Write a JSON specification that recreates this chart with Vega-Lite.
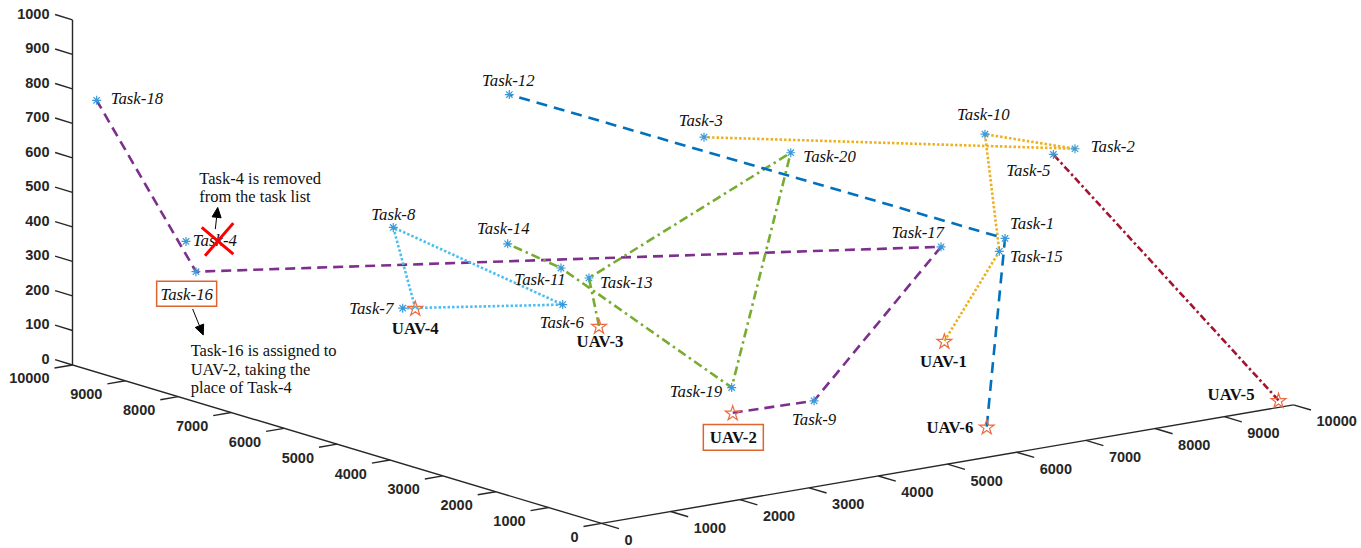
{
  "$schema": "https://vega.github.io/schema/vega-lite/v6.json",
  "width": 1361,
  "height": 548,
  "autosize": {"type": "fit", "contains": "padding"},
  "padding": 0,
  "background": "white",
  "config": {
    "view": {"stroke": null},
    "text": {"font": "Liberation Serif", "fontSize": 16.8, "fontStyle": "italic", "color": "#111111", "baseline": "middle"}
  },
  "datasets": {
    "points": [
      {"name": "Task-1", "kind": "task", "x": 8220, "y": 3125, "z": 400},
      {"name": "Task-2", "kind": "task", "x": 8438, "y": 2087, "z": 700},
      {"name": "Task-3", "kind": "task", "x": 5912, "y": 5796, "z": 650},
      {"name": "Task-4", "kind": "task", "x": 811, "y": 8915, "z": 380},
      {"name": "Task-5", "kind": "task", "x": 8594, "y": 2700, "z": 650},
      {"name": "Task-6", "kind": "task", "x": 4240, "y": 6280, "z": 200},
      {"name": "Task-7", "kind": "task", "x": 2659, "y": 7236, "z": 200},
      {"name": "Task-8", "kind": "task", "x": 2404, "y": 7081, "z": 450},
      {"name": "Task-9", "kind": "task", "x": 4128, "y": 1382, "z": 150},
      {"name": "Task-10", "kind": "task", "x": 8057, "y": 3290, "z": 700},
      {"name": "Task-11", "kind": "task", "x": 3759, "y": 5683, "z": 350},
      {"name": "Task-12", "kind": "task", "x": 3841, "y": 6767, "z": 800},
      {"name": "Task-13", "kind": "task", "x": 4240, "y": 5783, "z": 300},
      {"name": "Task-14", "kind": "task", "x": 3483, "y": 6330, "z": 400},
      {"name": "Task-15", "kind": "task", "x": 8299, "y": 3336, "z": 350},
      {"name": "Task-16", "kind": "task", "x": 820, "y": 8739, "z": 300},
      {"name": "Task-17", "kind": "task", "x": 7904, "y": 3921, "z": 350},
      {"name": "Task-18", "kind": "task", "x": 190, "y": 9792, "z": 770},
      {"name": "Task-19", "kind": "task", "x": 3778, "y": 2481, "z": 150},
      {"name": "Task-20", "kind": "task", "x": 5703, "y": 3883, "z": 700},
      {"name": "UAV-1", "kind": "uav", "x": 8748, "y": 4962, "z": 0},
      {"name": "UAV-2", "kind": "uav", "x": 4601, "y": 3538, "z": 0},
      {"name": "UAV-3", "kind": "uav", "x": 6032, "y": 7938, "z": 0},
      {"name": "UAV-4", "kind": "uav", "x": 4894, "y": 9922, "z": 0},
      {"name": "UAV-5", "kind": "uav", "x": 10000, "y": 283, "z": 0},
      {"name": "UAV-6", "kind": "uav", "x": 6507, "y": 1230, "z": 0}
    ],
    "routes": [
      {"route": "UAV-1", "seq": 1, "name": "UAV-1"},
      {"route": "UAV-1", "seq": 2, "name": "Task-15"},
      {"route": "UAV-1", "seq": 3, "name": "Task-10"},
      {"route": "UAV-1", "seq": 4, "name": "Task-2"},
      {"route": "UAV-1", "seq": 5, "name": "Task-3"},
      {"route": "UAV-2", "seq": 1, "name": "UAV-2"},
      {"route": "UAV-2", "seq": 2, "name": "Task-9"},
      {"route": "UAV-2", "seq": 3, "name": "Task-17"},
      {"route": "UAV-2", "seq": 4, "name": "Task-16"},
      {"route": "UAV-2", "seq": 5, "name": "Task-18"},
      {"route": "UAV-3", "seq": 1, "name": "UAV-3"},
      {"route": "UAV-3", "seq": 2, "name": "Task-13"},
      {"route": "UAV-3", "seq": 3, "name": "Task-20"},
      {"route": "UAV-3", "seq": 4, "name": "Task-19"},
      {"route": "UAV-3", "seq": 5, "name": "Task-11"},
      {"route": "UAV-3", "seq": 6, "name": "Task-14"},
      {"route": "UAV-4", "seq": 1, "name": "UAV-4"},
      {"route": "UAV-4", "seq": 2, "name": "Task-8"},
      {"route": "UAV-4", "seq": 3, "name": "Task-6"},
      {"route": "UAV-4", "seq": 4, "name": "Task-7"},
      {"route": "UAV-5", "seq": 1, "name": "UAV-5"},
      {"route": "UAV-5", "seq": 2, "name": "Task-5"},
      {"route": "UAV-6", "seq": 1, "name": "UAV-6"},
      {"route": "UAV-6", "seq": 2, "name": "Task-1"},
      {"route": "UAV-6", "seq": 3, "name": "Task-12"}
    ],
    "axisLine": [
      {"seq": 1, "x": 10000, "y": 0, "z": 0},
      {"seq": 2, "x": 0, "y": 0, "z": 0},
      {"seq": 3, "x": 0, "y": 10000, "z": 0},
      {"seq": 4, "x": 0, "y": 10000, "z": 1000}
    ],
    "ticks": [
      {"axis": "x", "value": 0, "x": 0, "y": 0, "z": 0},
      {"axis": "x", "value": 1000, "x": 1000, "y": 0, "z": 0},
      {"axis": "x", "value": 2000, "x": 2000, "y": 0, "z": 0},
      {"axis": "x", "value": 3000, "x": 3000, "y": 0, "z": 0},
      {"axis": "x", "value": 4000, "x": 4000, "y": 0, "z": 0},
      {"axis": "x", "value": 5000, "x": 5000, "y": 0, "z": 0},
      {"axis": "x", "value": 6000, "x": 6000, "y": 0, "z": 0},
      {"axis": "x", "value": 7000, "x": 7000, "y": 0, "z": 0},
      {"axis": "x", "value": 8000, "x": 8000, "y": 0, "z": 0},
      {"axis": "x", "value": 9000, "x": 9000, "y": 0, "z": 0},
      {"axis": "x", "value": 10000, "x": 10000, "y": 0, "z": 0},
      {"axis": "y", "value": 0, "x": 0, "y": 0, "z": 0},
      {"axis": "y", "value": 1000, "x": 0, "y": 1000, "z": 0},
      {"axis": "y", "value": 2000, "x": 0, "y": 2000, "z": 0},
      {"axis": "y", "value": 3000, "x": 0, "y": 3000, "z": 0},
      {"axis": "y", "value": 4000, "x": 0, "y": 4000, "z": 0},
      {"axis": "y", "value": 5000, "x": 0, "y": 5000, "z": 0},
      {"axis": "y", "value": 6000, "x": 0, "y": 6000, "z": 0},
      {"axis": "y", "value": 7000, "x": 0, "y": 7000, "z": 0},
      {"axis": "y", "value": 8000, "x": 0, "y": 8000, "z": 0},
      {"axis": "y", "value": 9000, "x": 0, "y": 9000, "z": 0},
      {"axis": "y", "value": 10000, "x": 0, "y": 10000, "z": 0},
      {"axis": "z", "value": 0, "x": 0, "y": 10000, "z": 0},
      {"axis": "z", "value": 100, "x": 0, "y": 10000, "z": 100},
      {"axis": "z", "value": 200, "x": 0, "y": 10000, "z": 200},
      {"axis": "z", "value": 300, "x": 0, "y": 10000, "z": 300},
      {"axis": "z", "value": 400, "x": 0, "y": 10000, "z": 400},
      {"axis": "z", "value": 500, "x": 0, "y": 10000, "z": 500},
      {"axis": "z", "value": 600, "x": 0, "y": 10000, "z": 600},
      {"axis": "z", "value": 700, "x": 0, "y": 10000, "z": 700},
      {"axis": "z", "value": 800, "x": 0, "y": 10000, "z": 800},
      {"axis": "z", "value": 900, "x": 0, "y": 10000, "z": 900},
      {"axis": "z", "value": 1000, "x": 0, "y": 10000, "z": 1000}
    ]
  },
  "encoding": {
    "x": {"field": "u", "type": "quantitative", "scale": {"domain": [-601.5, 759.5], "nice": false, "zero": false}, "axis": null},
    "y": {"field": "v", "type": "quantitative", "scale": {"domain": [-22.7, 525.3], "nice": false, "zero": false}, "axis": null}
  },
  "layer": [
    {
      "data": {"name": "axisLine"},
      "transform": [
        {"calculate": "0.0692*datum.x-0.0529*datum.y", "as": "u"},
        {"calculate": "0.0119*datum.x+0.0159*datum.y+0.3463*datum.z", "as": "v"}
      ],
      "mark": {"type": "line", "stroke": "#262626", "strokeWidth": 1.4},
      "encoding": {"order": {"field": "seq", "type": "quantitative"}}
    },
    {
      "data": {"name": "ticks"},
      "transform": [
        {"calculate": "0.0692*datum.x-0.0529*datum.y", "as": "u"},
        {"calculate": "0.0119*datum.x+0.0159*datum.y+0.3463*datum.z", "as": "v"}
      ],
      "layer": [
        {"transform": [{"filter": "datum.axis==='x'"}], "mark": {"type": "point", "shape": "M0,0L17.5,5.2", "size": 4, "filled": false, "stroke": "#262626", "strokeWidth": 1.4, "opacity": 1}},
        {"transform": [{"filter": "datum.axis==='y'"}], "mark": {"type": "point", "shape": "M0,0L-18,3.1", "size": 4, "filled": false, "stroke": "#262626", "strokeWidth": 1.4, "opacity": 1}},
        {"transform": [{"filter": "datum.axis==='z'"}], "mark": {"type": "point", "shape": "M0,0L-17.4,-5.4", "size": 4, "filled": false, "stroke": "#262626", "strokeWidth": 1.4, "opacity": 1}},
        {"transform": [{"filter": "datum.axis==='x'"}], "mark": {"type": "text", "align": "left", "dx": 23, "dy": 17.5, "font": "Liberation Sans", "fontSize": 14.5, "fontWeight": "bold", "fontStyle": "normal", "color": "#262626"}, "encoding": {"text": {"field": "value", "type": "quantitative", "format": "d"}}},
        {"transform": [{"filter": "datum.axis==='y'"}], "mark": {"type": "text", "align": "right", "dx": -23, "dy": 14.5, "font": "Liberation Sans", "fontSize": 14.5, "fontWeight": "bold", "fontStyle": "normal", "color": "#262626"}, "encoding": {"text": {"field": "value", "type": "quantitative", "format": "d"}}},
        {"transform": [{"filter": "datum.axis==='z'"}], "mark": {"type": "text", "align": "right", "dx": -23, "dy": -5, "font": "Liberation Sans", "fontSize": 14.5, "fontWeight": "bold", "fontStyle": "normal", "color": "#262626"}, "encoding": {"text": {"field": "value", "type": "quantitative", "format": "d"}}}
      ]
    },
    {
      "data": {"name": "routes"},
      "transform": [
        {"lookup": "name", "from": {"data": {"name": "points"}, "key": "name", "fields": ["x", "y", "z"]}},
        {"calculate": "0.0692*datum.x-0.0529*datum.y", "as": "u"},
        {"calculate": "0.0119*datum.x+0.0159*datum.y+0.3463*datum.z", "as": "v"}
      ],
      "mark": {"type": "line", "strokeWidth": 2.6},
      "encoding": {
        "detail": {"field": "route"},
        "order": {"field": "seq", "type": "quantitative"},
        "color": {"field": "route", "type": "nominal", "legend": null, "scale": {"domain": ["UAV-1", "UAV-2", "UAV-3", "UAV-4", "UAV-5", "UAV-6"], "range": ["#EDB120", "#7E2F8E", "#77AC30", "#4DBEEE", "#A2142F", "#0072BD"]}},
        "strokeDash": {"field": "route", "type": "nominal", "legend": null, "scale": {"domain": ["UAV-1", "UAV-2", "UAV-3", "UAV-4", "UAV-5", "UAV-6"], "range": [[2.5, 2], [10, 6], [9, 4, 2.5, 4], [2.5, 2], [7, 3, 2.5, 3], [11, 7]]}}
      }
    },
    {
      "data": {"name": "points"},
      "transform": [
        {"calculate": "0.0692*datum.x-0.0529*datum.y", "as": "u"},
        {"calculate": "0.0119*datum.x+0.0159*datum.y+0.3463*datum.z", "as": "v"}
      ],
      "layer": [
        {"transform": [{"filter": "datum.kind==='task'"}], "mark": {"type": "point", "shape": "M-4.5,0H4.5M0,-4.5V4.5M-3.2,-3.2L3.2,3.2M-3.2,3.2L3.2,-3.2", "size": 4, "filled": false, "stroke": "#3A9AD9", "strokeWidth": 1.2, "opacity": 1}},
        {"transform": [{"filter": "datum.kind==='uav'"}], "mark": {"type": "point", "shape": "M0,-7.1L1.75,-1.71L7.42,-1.71L2.83,1.62L4.58,7.01L0,3.68L-4.58,7.01L-2.83,1.62L-7.42,-1.71L-1.75,-1.71Z", "size": 4, "filled": false, "stroke": "#EE6A3F", "strokeWidth": 1.2, "opacity": 1}},
        {"transform": [{"filter": "datum.name==='Task-18'"}], "mark": {"type": "text", "align": "left", "dx": 14, "dy": -1.2}, "encoding": {"text": {"field": "name"}}},
        {"transform": [{"filter": "datum.name==='Task-4'"}], "mark": {"type": "text", "align": "left", "dx": 6.7, "dy": -0.1}, "encoding": {"text": {"field": "name"}}},
        {"transform": [{"filter": "datum.name==='Task-8'"}], "mark": {"type": "text", "align": "center", "dx": 0, "dy": -12.8}, "encoding": {"text": {"field": "name"}}},
        {"transform": [{"filter": "datum.name==='Task-14'"}], "mark": {"type": "text", "align": "center", "dx": -4.4, "dy": -15.2}, "encoding": {"text": {"field": "name"}}},
        {"transform": [{"filter": "datum.name==='Task-11'"}], "mark": {"type": "text", "align": "center", "dx": -21, "dy": 12.2}, "encoding": {"text": {"field": "name"}}},
        {"transform": [{"filter": "datum.name==='Task-13'"}], "mark": {"type": "text", "align": "left", "dx": 11, "dy": 5.5}, "encoding": {"text": {"field": "name"}}},
        {"transform": [{"filter": "datum.name==='Task-7'"}], "mark": {"type": "text", "align": "right", "dx": -9.4, "dy": 1.2}, "encoding": {"text": {"field": "name"}}},
        {"transform": [{"filter": "datum.name==='Task-6'"}], "mark": {"type": "text", "align": "center", "dx": -1, "dy": 18.8}, "encoding": {"text": {"field": "name"}}},
        {"transform": [{"filter": "datum.name==='Task-12'"}], "mark": {"type": "text", "align": "center", "dx": -1, "dy": -13.8}, "encoding": {"text": {"field": "name"}}},
        {"transform": [{"filter": "datum.name==='Task-3'"}], "mark": {"type": "text", "align": "center", "dx": -3.3, "dy": -16.5}, "encoding": {"text": {"field": "name"}}},
        {"transform": [{"filter": "datum.name==='Task-20'"}], "mark": {"type": "text", "align": "left", "dx": 12.6, "dy": 4.5}, "encoding": {"text": {"field": "name"}}},
        {"transform": [{"filter": "datum.name==='Task-10'"}], "mark": {"type": "text", "align": "center", "dx": -1.7, "dy": -19.2}, "encoding": {"text": {"field": "name"}}},
        {"transform": [{"filter": "datum.name==='Task-2'"}], "mark": {"type": "text", "align": "left", "dx": 15.7, "dy": -1.5}, "encoding": {"text": {"field": "name"}}},
        {"transform": [{"filter": "datum.name==='Task-5'"}], "mark": {"type": "text", "align": "center", "dx": -25, "dy": 16.2}, "encoding": {"text": {"field": "name"}}},
        {"transform": [{"filter": "datum.name==='Task-1'"}], "mark": {"type": "text", "align": "left", "dx": 5, "dy": -14.8}, "encoding": {"text": {"field": "name"}}},
        {"transform": [{"filter": "datum.name==='Task-15'"}], "mark": {"type": "text", "align": "left", "dx": 10.7, "dy": 5.9}, "encoding": {"text": {"field": "name"}}},
        {"transform": [{"filter": "datum.name==='Task-17'"}], "mark": {"type": "text", "align": "center", "dx": -23.3, "dy": -13.9}, "encoding": {"text": {"field": "name"}}},
        {"transform": [{"filter": "datum.name==='Task-19'"}], "mark": {"type": "text", "align": "center", "dx": -35.7, "dy": 4.2}, "encoding": {"text": {"field": "name"}}},
        {"transform": [{"filter": "datum.name==='Task-9'"}], "mark": {"type": "text", "align": "center", "dx": 0, "dy": 19.2}, "encoding": {"text": {"field": "name"}}},
        {"transform": [{"filter": "datum.name==='Task-16'"}], "mark": {"type": "text", "align": "center", "dx": -9.3, "dy": 22.8}, "encoding": {"text": {"field": "name"}}},
        {"transform": [{"filter": "datum.name==='UAV-4'"}], "mark": {"type": "text", "align": "center", "dx": 0, "dy": 21.2, "fontStyle": "normal", "fontWeight": "bold"}, "encoding": {"text": {"field": "name"}}},
        {"transform": [{"filter": "datum.name==='UAV-3'"}], "mark": {"type": "text", "align": "center", "dx": 1, "dy": 15.9, "fontStyle": "normal", "fontWeight": "bold"}, "encoding": {"text": {"field": "name"}}},
        {"transform": [{"filter": "datum.name==='UAV-1'"}], "mark": {"type": "text", "align": "center", "dx": -1, "dy": 20.9, "fontStyle": "normal", "fontWeight": "bold"}, "encoding": {"text": {"field": "name"}}},
        {"transform": [{"filter": "datum.name==='UAV-6'"}], "mark": {"type": "text", "align": "right", "dx": -13.4, "dy": 1.5, "fontStyle": "normal", "fontWeight": "bold"}, "encoding": {"text": {"field": "name"}}},
        {"transform": [{"filter": "datum.name==='UAV-5'"}], "mark": {"type": "text", "align": "right", "dx": -24, "dy": -5.5, "fontStyle": "normal", "fontWeight": "bold"}, "encoding": {"text": {"field": "name"}}},
        {"transform": [{"filter": "datum.name==='UAV-2'"}], "mark": {"type": "text", "align": "center", "dx": 0.6, "dy": 25, "fontStyle": "normal", "fontWeight": "bold"}, "encoding": {"text": {"field": "name"}}},
        {"transform": [{"filter": "datum.name==='UAV-2'"}], "mark": {"type": "point", "shape": "M-29.4,11.7H30.6V37.4H-29.4Z", "size": 4, "filled": false, "stroke": "#E0642E", "strokeWidth": 1.5, "opacity": 1}},
        {"transform": [{"filter": "datum.name==='Task-16'"}], "mark": {"type": "point", "shape": "M-39.3,9.6H20.7V34.6H-39.3Z", "size": 4, "filled": false, "stroke": "#E0642E", "strokeWidth": 1.5, "opacity": 1}},
        {"transform": [{"filter": "datum.name==='Task-16'"}], "mark": {"type": "point", "shape": "M-3.3,37.3L3.5,54.05M7.3,63.3L7.7,52.35L-0.7,55.75Z", "size": 4, "filled": true, "fill": "#000000", "stroke": "#000000", "strokeWidth": 1, "opacity": 1}},
        {"transform": [{"filter": "datum.name==='Task-16'"}], "mark": {"type": "text", "align": "left", "baseline": "top", "dx": -5.3, "dy": 71.5, "lineHeight": 18.3, "fontSize": 16.5, "fontStyle": "normal", "text": ["Task-16 is assigned to", "UAV-2, taking the", "place of Task-4"]}},
        {"transform": [{"filter": "datum.name==='Task-4'"}], "mark": {"type": "point", "shape": "M15.7,-14L47.3,12.7M47.3,-18.3L19,14.4", "size": 4, "filled": false, "stroke": "#FF0000", "strokeWidth": 3, "opacity": 1}},
        {"transform": [{"filter": "datum.name==='Task-4'"}], "mark": {"type": "point", "shape": "M29.3,-12.3L30.6,-24.1M31.7,-34L35.1,-23.6L26.1,-24.6Z", "size": 4, "filled": true, "fill": "#000000", "stroke": "#000000", "strokeWidth": 1, "opacity": 1}},
        {"transform": [{"filter": "datum.name==='Task-4'"}], "mark": {"type": "text", "align": "left", "baseline": "top", "dx": 13.3, "dy": -70.8, "lineHeight": 18.3, "fontSize": 16.5, "fontStyle": "normal", "text": ["Task-4 is removed", "from the task list"]}}
      ]
    }
  ]
}
